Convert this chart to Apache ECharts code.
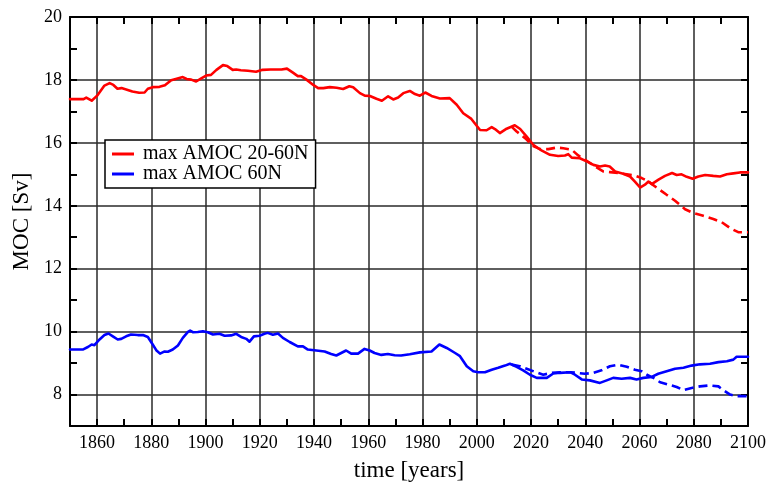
<!DOCTYPE html>
<html>
<head>
<meta charset="utf-8">
<script src="https://cdn.jsdelivr.net/npm/echarts@6/dist/echarts.min.js"></script>
<style>
  html, body { margin: 0; padding: 0; background: #fff; }
  #chart { width: 766px; height: 482px; }
</style>
</head>
<body>
<div id="chart"></div>
<script>
// Maximum AMOC strength, 20-60N (red) and 60N (blue), in Sv
const red2060Years = [1850,1855,1856,1858,1860,1862.7,1864.6,1866,1867.5,1869,1871,1873,1875.5,1877.5,1878.7,1880.5,1883,1885,1887.3,1889,1891.6,1893,1894.7,1896.5,1898.4,1900.2,1902,1904,1906.4,1908,1910,1911.3,1913,1915.6,1918.6,1921,1924,1928,1930,1932.2,1934,1935.2,1937.2,1939.7,1941.5,1943.4,1945.8,1948.3,1950.7,1953,1954.4,1956.9,1958.7,1960.6,1963,1965,1967.3,1969.2,1971,1972.9,1975.3,1977.2,1979,1981,1983.3,1986.4,1990,1992.6,1995,1998,2001.2,2003.6,2005.5,2006.7,2008.5,2011,2014,2016,2018.4,2020.8,2024,2027,2030,2032.5,2033.7,2035,2038,2040.5,2043,2045.4,2047.3,2049,2051,2054,2056.5,2058.3,2060.2,2062,2063.3,2064.5,2067,2069.4,2072,2073.7,2075.5,2077.4,2079.6,2081.7,2084.2,2087.2,2089.7,2092.2,2094.6,2097,2100];
const red2060Values = [17.39,17.39,17.44,17.34,17.50,17.82,17.90,17.84,17.72,17.74,17.69,17.63,17.59,17.60,17.72,17.77,17.78,17.83,17.99,18.03,18.09,18.03,18.01,17.95,18.05,18.14,18.16,18.32,18.47,18.44,18.32,18.33,18.31,18.29,18.26,18.32,18.33,18.33,18.36,18.23,18.12,18.12,18.01,17.84,17.74,17.74,17.77,17.75,17.71,17.80,17.77,17.58,17.50,17.49,17.40,17.34,17.48,17.38,17.44,17.58,17.65,17.55,17.50,17.60,17.49,17.41,17.42,17.21,16.94,16.76,16.41,16.40,16.50,16.44,16.31,16.45,16.56,16.44,16.20,15.94,15.75,15.62,15.58,15.60,15.64,15.53,15.51,15.41,15.30,15.25,15.28,15.25,15.09,15.02,14.93,14.77,14.58,14.67,14.77,14.69,14.83,14.95,15.04,14.98,15.00,14.92,14.86,14.93,14.98,14.95,14.93,15.00,15.03,15.06,15.06];

const red2060AltYears = [2013,2014.7,2017.8,2020.8,2023.3,2026.4,2029.4,2031.9,2035,2037.4,2040.5,2043.6,2046.6,2049.1,2052.2,2055.3,2058.3,2060.8,2063.3,2066.3,2070,2073.1,2076.8,2079.8,2083.5,2087.2,2090.3,2093.4,2096.4,2100];
const red2060AltValues = [16.50,16.36,16.15,15.90,15.80,15.80,15.85,15.83,15.78,15.60,15.43,15.25,15.09,15.07,15.04,15.00,14.96,14.88,14.77,14.58,14.35,14.16,13.89,13.77,13.68,13.58,13.48,13.29,13.16,13.16];

const blue60Years = [1850,1854.7,1856.6,1858,1859,1860.9,1862.7,1864.2,1865.8,1867.6,1868.9,1870.7,1872.5,1875,1876.9,1878.7,1880.5,1881.8,1883.2,1884.9,1886.1,1887.9,1889.8,1891.6,1893.5,1894.3,1895.3,1897.1,1899,1900.8,1902.7,1905.1,1907,1909.4,1911.3,1913.1,1915,1916.2,1917.8,1919.9,1921.7,1922.9,1924.8,1926.7,1928.5,1931,1934,1935.9,1937.7,1940.8,1943.9,1946.3,1948.2,1950,1951.8,1953.7,1956.2,1958.6,1960.5,1962.3,1964.8,1967.2,1969.7,1972.1,1975.3,1979,1983.3,1986.2,1988.9,1992,1993.8,1996.3,1998.7,2000.5,2003,2005.5,2007.9,2010.4,2012.2,2014.7,2017.1,2019.6,2022.1,2025.8,2028.2,2030.7,2034.4,2036.2,2038.7,2041.7,2045.4,2047.9,2050.3,2053.4,2056.5,2058.9,2061.4,2064.5,2066.9,2070,2073.1,2076.2,2079.2,2082.3,2086,2089.1,2092.2,2094.6,2095.8,2100];
const blue60Values = [9.43,9.43,9.51,9.59,9.57,9.75,9.89,9.94,9.85,9.75,9.77,9.85,9.91,9.89,9.89,9.83,9.59,9.41,9.30,9.37,9.36,9.43,9.56,9.80,9.99,10.03,9.98,9.99,10.01,9.98,9.91,9.93,9.87,9.88,9.93,9.83,9.77,9.68,9.85,9.87,9.93,9.96,9.90,9.94,9.80,9.67,9.53,9.53,9.43,9.40,9.37,9.29,9.24,9.32,9.40,9.30,9.30,9.45,9.40,9.32,9.26,9.29,9.25,9.24,9.28,9.34,9.37,9.59,9.48,9.32,9.22,8.90,8.74,8.71,8.71,8.79,8.85,8.92,8.98,8.88,8.77,8.63,8.53,8.53,8.67,8.69,8.71,8.63,8.48,8.45,8.37,8.45,8.53,8.50,8.53,8.48,8.53,8.56,8.66,8.74,8.82,8.85,8.92,8.96,8.98,9.03,9.06,9.11,9.20,9.20];

const blue60AltYears = [2012.9,2015.9,2018.4,2021.5,2024.5,2027.6,2030.7,2034.4,2036.8,2039.9,2043,2046,2049.1,2052.2,2055.3,2058.3,2060.8,2062.7,2065.1,2067.6,2070.6,2073.7,2076.2,2079.2,2082.3,2086,2089.1,2090.9,2093.4,2095.8,2100];
const blue60AltValues = [8.95,8.90,8.82,8.72,8.63,8.69,8.71,8.71,8.69,8.66,8.69,8.77,8.90,8.95,8.88,8.79,8.74,8.63,8.53,8.39,8.32,8.24,8.14,8.21,8.26,8.29,8.26,8.14,8.00,7.95,7.95];

const legendNames = ['max AMOC 20-60N', 'max AMOC 60N'];
const xTitle = 'time [years]';
const yTitle = 'MOC [Sv]';

const pairs = (xs, ys) => xs.map((x, i) => [x, ys[i]]);

const SERIF = '"Liberation Serif", "DejaVu Serif", serif';
const INK = '#000';
const GRIDINK = '#2a2a2a';

function frameAxis(extra) {
  return Object.assign({
    type: 'value',
    axisLine: { show: true, onZero: false, lineStyle: { color: INK, width: 2 } },
    axisTick: { show: true, inside: true, length: 7, lineStyle: { color: INK, width: 2 } },
    axisLabel: { show: false },
    splitLine: { show: false }
  }, extra);
}

const chart = echarts.init(document.getElementById('chart'), null, { renderer: 'canvas' });

chart.setOption({
  animation: false,
  backgroundColor: '#fff',
  grid: { left: 70, right: 18, top: 17, bottom: 56, containLabel: false, outerBoundsMode: 'none' },
  legend: {
    orient: 'vertical',
    left: 105,
    top: 140,
    data: legendNames,
    icon: 'rect',
    itemWidth: 22,
    itemHeight: 3,
    itemGap: 0,
    padding: [4, 7, 4, 7],
    backgroundColor: '#fff',
    borderColor: INK,
    borderWidth: 1.5,
    borderRadius: 0,
    textStyle: { fontFamily: SERIF, fontSize: 20, color: INK, padding: [0, 0, 0, 4] }
  },
  xAxis: [
    frameAxis({
      position: 'bottom', min: 1850, max: 2100, interval: 10,
      name: xTitle, nameLocation: 'middle', nameGap: 33,
      nameTextStyle: { fontFamily: SERIF, fontSize: 23, color: INK },
      axisLabel: {
        show: true, margin: 8, color: INK, fontFamily: SERIF, fontSize: 18,
        showMinLabel: true, showMaxLabel: true,
        formatter: v => (v % 20 === 0 ? String(v) : '')
      },
      // every other line drawn: grid every 20 years, ticks every 10
      splitLine: { show: true, lineStyle: { color: ['rgba(0,0,0,0)', GRIDINK], width: 1.5 } }
    }),
    frameAxis({ position: 'top', min: 1850, max: 2100, interval: 10 })
  ],
  yAxis: [
    frameAxis({
      position: 'left', min: 7, max: 20, interval: 1,
      name: yTitle, nameLocation: 'middle', nameGap: 36,
      nameTextStyle: { fontFamily: SERIF, fontSize: 23, color: INK },
      axisLabel: {
        show: true, margin: 8, color: INK, fontFamily: SERIF, fontSize: 18,
        formatter: v => (v % 2 === 0 ? String(v) : '')
      },
      splitLine: { show: true, lineStyle: { color: ['rgba(0,0,0,0)', GRIDINK], width: 1.5 } }
    }),
    frameAxis({ position: 'right', min: 7, max: 20, interval: 1 })
  ],
  series: [
    {
      name: legendNames[0], type: 'line', xAxisIndex: 0, yAxisIndex: 0,
      data: pairs(red2060Years, red2060Values),
      showSymbol: false, symbol: 'none', color: '#ff0000',
      lineStyle: { color: '#ff0000', width: 2.6, cap: 'round', join: 'round' }, z: 3
    },
    {
      name: 'max AMOC 20-60N, alt', type: 'line', xAxisIndex: 0, yAxisIndex: 0,
      data: pairs(red2060AltYears, red2060AltValues),
      showSymbol: false, symbol: 'none', color: '#ff0000',
      lineStyle: { color: '#ff0000', width: 2.6, type: [9, 5] }, z: 2
    },
    {
      name: legendNames[1], type: 'line', xAxisIndex: 0, yAxisIndex: 0,
      data: pairs(blue60Years, blue60Values),
      showSymbol: false, symbol: 'none', color: '#0000ff',
      lineStyle: { color: '#0000ff', width: 2.6, cap: 'round', join: 'round' }, z: 3
    },
    {
      name: 'max AMOC 60N, alt', type: 'line', xAxisIndex: 0, yAxisIndex: 0,
      data: pairs(blue60AltYears, blue60AltValues),
      showSymbol: false, symbol: 'none', color: '#0000ff',
      lineStyle: { color: '#0000ff', width: 2.6, type: [9, 5] }, z: 2
    }
  ]
});
</script>
</body>
</html>
